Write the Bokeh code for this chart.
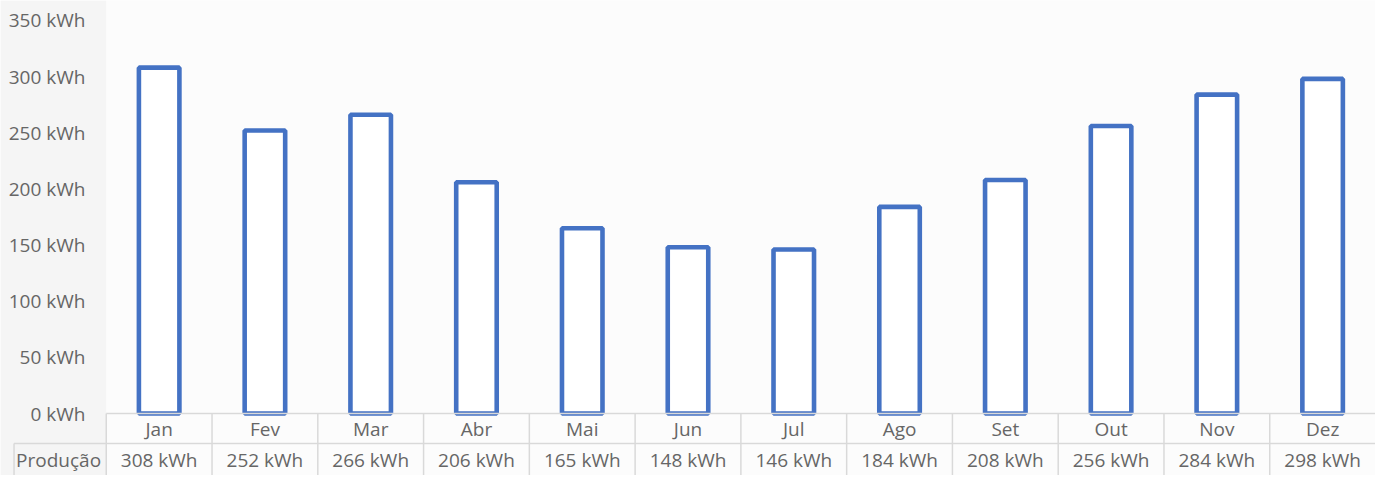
from bokeh.plotting import figure
from bokeh.models import ColumnDataSource, Range1d
from bokeh.core.properties import value
from bokeh.embed import file_html
from bokeh.resources import INLINE

# ---- data ----
months = ["Jan", "Fev", "Mar", "Abr", "Mai", "Jun", "Jul", "Ago", "Set", "Out", "Nov", "Dez"]
producao = [308, 252, 266, 206, 165, 148, 146, 184, 208, 256, 284, 298]
y_ticks = [0, 50, 100, 150, 200, 250, 300, 350]
series_name = "Produção"
unit = "kWh"

FONT = "Open Sans"
FS = "19px"
TXT = "#666666"
GRID = "#d9d9d9"
BLUE = "#4472C4"

# layout constants (data units)
Y_MIN, Y_MAX = -55.2, 367.8
ROW1_Y = -13.36      # month names row
ROW2_TOP = -26.7     # top border of values row
ROW2_Y = -40.97      # values row
X_MIN, X_MAX = -1.0, 12.0
TICK_LAB_X = -0.197
NAME_X = -0.451
NAME_LEFT = -0.872

n = len(months)
xc = [i + 0.5 for i in range(n)]

p = figure(width=1375, height=475, x_range=Range1d(X_MIN, X_MAX), y_range=Range1d(Y_MIN, Y_MAX),
           output_backend="svg", toolbar_location=None,
           x_axis_location=None, y_axis_location=None,
           min_border=0)
p.background_fill_color = "#fcfcfc"
p.border_fill_color = "#fcfcfc"
p.outline_line_color = None
p.grid.visible = False

# subtle grey strip behind the value axis labels
p.quad(left=[X_MIN], right=[0], bottom=[Y_MIN], top=[Y_MAX], fill_color="#f5f5f5", line_color=None)

# value-axis tick labels
p.text(x=[TICK_LAB_X] * len(y_ticks), y=y_ticks, text=[f"{t} {unit}" for t in y_ticks],
       text_align="right", text_baseline="middle", text_font=value(FONT),
       text_font_size=FS, text_color=TXT)

# bars
src = ColumnDataSource(dict(x=xc, month=months, val=producao,
                            lab=[f"{v} {unit}" for v in producao],
                            r1=[ROW1_Y] * n, r2=[ROW2_Y] * n))
p.vbar(x="x", top="val", bottom=0, width=0.383, source=src,
       fill_color="white", line_color=BLUE, line_width=4.6)

# data table grid
p.segment(x0=list(range(n)), x1=list(range(n)), y0=[0] * n, y1=[Y_MIN] * n,
          line_color=GRID, line_width=1.5)
p.segment(x0=[0], x1=[X_MAX], y0=[0], y1=[0], line_color=GRID, line_width=1.5)
p.segment(x0=[NAME_LEFT], x1=[X_MAX], y0=[ROW2_TOP], y1=[ROW2_TOP], line_color=GRID, line_width=1.5)
p.segment(x0=[NAME_LEFT], x1=[NAME_LEFT], y0=[ROW2_TOP], y1=[Y_MIN], line_color=GRID, line_width=1.5)

# table texts
p.text(x="x", y="r1", text="month", source=src, text_align="center",
       text_baseline="middle", text_font=value(FONT), text_font_size=FS, text_color=TXT)
p.text(x="x", y="r2", text="lab", source=src, text_align="center",
       text_baseline="middle", text_font=value(FONT), text_font_size=FS, text_color=TXT)
p.text(x=[NAME_X], y=[ROW2_Y], text=[series_name], text_align="center",
       text_baseline="middle", text_font=value(FONT), text_font_size=FS, text_color=TXT)

open("out.html", "w").write(file_html(p, INLINE))
